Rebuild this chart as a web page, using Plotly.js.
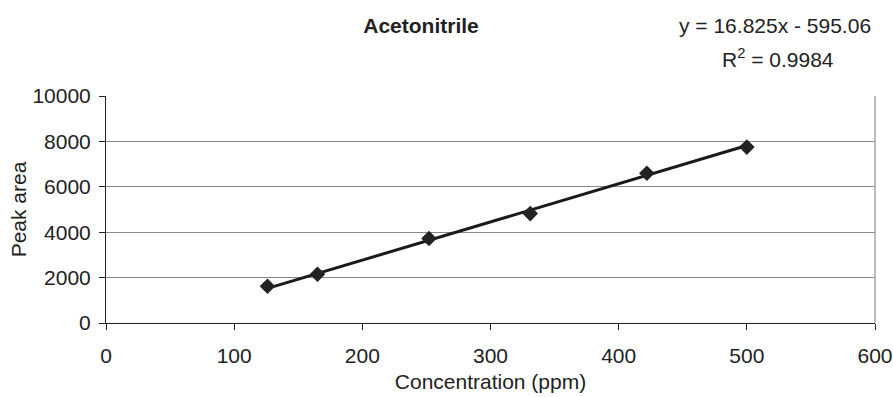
<!DOCTYPE html>
<html>
<head>
<meta charset="utf-8">
<script src="https://cdn.plot.ly/plotly-3.0.1.min.js"></script>
<style>html,body{margin:0;padding:0;background:#fff;}#chart{width:893px;height:397px;}</style>
</head>
<body>
<div id="chart"></div>
<script>
const concentration = [126, 165, 252, 331, 422, 500];
const peakArea = [1620, 2150, 3720, 4820, 6600, 7750];
const slope = 16.825;
const intercept = -595.06;
const rSquared = 0.9984;
const xTicks = [0, 100, 200, 300, 400, 500, 600];
const yTicks = [0, 2000, 4000, 6000, 8000, 10000];
const yTickText = ['0', '2000', '4000', '6000', '8000', '10000'];

const xMin = Math.min(...concentration), xMax = Math.max(...concentration);
const trendX = [xMin, xMax];
const trendY = trendX.map(v => slope * v + intercept);

const font = 'Liberation Sans, Arial, sans-serif';
const fs = 21;
const txt = {family: font, size: fs, color: '#222'};
const data = [
  {x: trendX, y: trendY, mode: 'lines', line: {color: '#1a1a1a', width: 3}, hoverinfo: 'skip'},
  {x: concentration, y: peakArea, mode: 'markers', marker: {symbol: 'diamond', size: 12, color: '#222'}}
];
const L = 106, T = 96, R = 18, B = 74, W = 893, H = 397;
const pw = W - L - R, ph = H - T - B;
const px = v => (v - L) / pw;
const py = v => (H - B - v) / ph;
const layout = {
  width: W, height: H,
  margin: {l: L, r: R, t: T, b: B},
  paper_bgcolor: '#fff', plot_bgcolor: '#fff',
  showlegend: false,
  font: txt,
  title: {text: '<b>Acetonitrile</b>', x: 421/893, xanchor: 'center', y: 1 - 26/397, yanchor: 'middle', font: txt},
  xaxis: {
    range: [0, 600], tickvals: xTicks, ticks: 'outside', ticklen: 6, tickcolor: '#222', tickwidth: 1,
    showline: true, linecolor: '#222', linewidth: 1, showgrid: false, zeroline: false,
    tickfont: txt, ticklabeloverflow: 'allow', ticklabelstandoff: 8,
    title: {text: 'Concentration (ppm)', font: txt, standoff: 8}
  },
  yaxis: {
    range: [0, 10000], tickvals: yTicks, ticktext: yTickText, ticks: 'outside', ticklen: 6, tickcolor: '#222', tickwidth: 1,
    showline: true, linecolor: '#222', linewidth: 1, showgrid: true, gridcolor: '#8a8a8a', gridwidth: 1.3, zeroline: false,
    tickfont: txt, ticklabelstandoff: 4,
    title: {text: 'Peak area', font: txt, standoff: 0}
  },
  shapes: [
    {type: 'line', xref: 'paper', yref: 'paper', x0: 1, x1: 1, y0: 0, y1: 1, line: {color: '#999', width: 1.3}}
  ],
  annotations: [
    {xref: 'paper', yref: 'paper', x: px(775), y: py(25), xanchor: 'center', yanchor: 'middle', showarrow: false,
     text: 'y = ' + slope.toFixed(3) + 'x - ' + Math.abs(intercept).toFixed(2), font: txt},
    {xref: 'paper', yref: 'paper', x: px(778), y: py(58), xanchor: 'center', yanchor: 'middle', showarrow: false,
     text: 'R<sup>2</sup> = ' + rSquared.toFixed(4), font: txt}
  ]
};
Plotly.newPlot('chart', data, layout, {displayModeBar: false, staticPlot: true});
</script>
</body>
</html>
